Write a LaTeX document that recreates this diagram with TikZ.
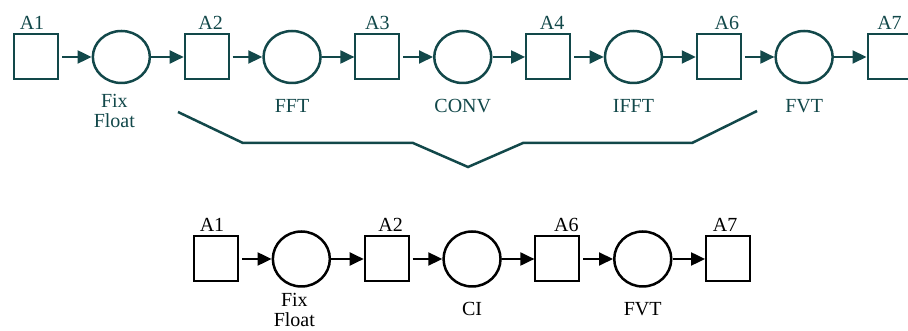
\documentclass[tikz,border=0pt]{standalone}
\usepackage{fontspec}
\setmainfont{Liberation Serif}
\usepackage{tikz}
\usetikzlibrary{arrows.meta,shapes.geometric}
\definecolor{darkteal}{RGB}{18,72,74}

\begin{document}
\begin{tikzpicture}[x=1pt,y=1pt,->,>={Triangle[length=14pt,width=13pt]},node distance=85.35pt,line width=2pt,label distance=3pt,
  buf node/.style={rectangle,draw,minimum width=44pt,minimum height=45pt,inner sep=0pt},
  act node/.style={ellipse,draw,line width=2.5pt,minimum width=57pt,minimum height=52pt,inner sep=0pt},
  every label/.style={inner sep=0pt,font=\fontsize{20}{20}\selectfont,align=center}]

  \useasboundingbox (0,0) rectangle (908,331);

  % full chain
  \begin{scope}[darkteal]
  \node[buf node,label={[xshift=-4pt]above:A1}] (a1) at (36,274) {};
  \node[act node,label={[xshift=-7pt,label distance=9pt]below:{Fix\\Float}}] (fix) [right of=a1] {};
  \node[buf node,label={[xshift=4pt]above:A2}] (a2) [right of=fix] {};
  \node[act node,label={[label distance=14pt]below:FFT}] (fft) [right of=a2] {};
  \node[buf node,label={above:A3}] (a3) [right of=fft] {};
  \node[act node,label={[label distance=14pt]below:CONV}] (conv) [right of=a3] {};
  \node[buf node,label={[xshift=4pt]above:A4}] (a4) [right of=conv] {};
  \node[act node,label={[label distance=14pt]below:IFFT}] (ifft) [right of=a4] {};
  \node[buf node,label={[xshift=8pt]above:A6}] (a6) [right of=ifft] {};
  \node[act node,label={[label distance=14pt]below:FVT}] (fvt) [right of=a6] {};
  \node[buf node,label={above:A7}] (a7) [right of=fvt] {};

  \path[->]
       (a1) edge[shorten <=3pt] (fix)
       (fix) edge (a2)
       (a2) edge[shorten <=3pt] (fft)
       (fft) edge (a3)
       (a3) edge[shorten <=3pt] (conv)
       (conv) edge (a4)
       (a4) edge[shorten <=3pt] (ifft)
       (ifft) edge (a6)
       (a6) edge[shorten <=3pt] (fvt)
       (fvt) edge (a7);

  % merge brace
  \draw[-,line width=2.5pt] (178,219) -- (243,188) -- (413,188) -- (468,164) -- (523,188) -- (692,188) -- (757,220);
  \end{scope}

  % merged chain
  \node[buf node,label={[xshift=-4pt]above:A1}] (b1) at (216,72) {};
  \node[act node,minimum height=55pt,label={[xshift=-7pt,label distance=5pt]below:{Fix\\Float}}] (bfix) [right of=b1] {};
  \node[buf node,label={[xshift=4pt]above:A2}] (b2) [right of=bfix] {};
  \node[act node,minimum height=55pt,label={[label distance=14pt]below:CI}] (ci) [right of=b2] {};
  \node[buf node,label={[xshift=9pt]above:A6}] (b6) [right of=ci] {};
  \node[act node,minimum height=55pt,label={[label distance=14pt]below:FVT}] (bfvt) [right of=b6] {};
  \node[buf node,label={[xshift=-3pt]above:A7}] (b7) [right of=bfvt] {};

  \path[->]
       (b1) edge[shorten <=3pt] (bfix)
       (bfix) edge (b2)
       (b2) edge[shorten <=3pt] (ci)
       (ci) edge (b6)
       (b6) edge[shorten <=3pt] (bfvt)
       (bfvt) edge (b7);
\end{tikzpicture}
\end{document}
